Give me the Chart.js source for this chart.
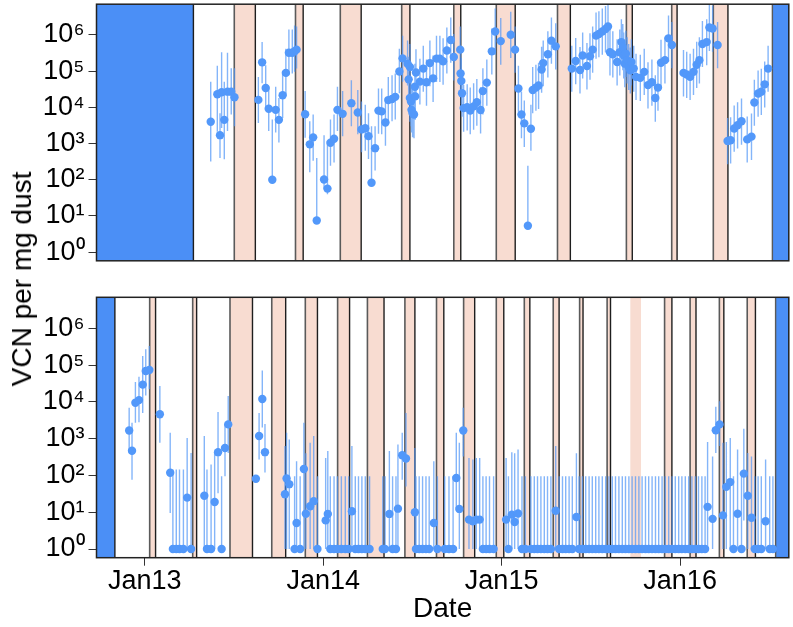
<!DOCTYPE html>
<html><head><meta charset="utf-8">
<script src="https://cdn.jsdelivr.net/npm/chart.js@4.4.1/dist/chart.umd.min.js"></script>
<style>
html,body{margin:0;padding:0;background:#fff;width:793px;height:627px;overflow:hidden;}
#top{position:absolute;left:0;top:0;width:793px;height:265px;}
#bot{position:absolute;left:0;top:290px;width:793px;height:337px;}
#ylab{position:absolute;left:22px;top:279px;transform:translate(-50%,-50%) rotate(-90deg);font:28px 'Liberation Sans',Arial,sans-serif;white-space:nowrap;color:#000;}
</style></head><body>
<div id="top"><canvas id="c1"></canvas></div>
<div id="bot"><canvas id="c2"></canvas></div>
<div id="ylab">VCN per mg dust</div>
<script>
// ---------- DATA ----------
const xTickValues = [2013, 2014, 2015, 2016];
const xTickLabels = ['Jan13', 'Jan14', 'Jan15', 'Jan16'];
const yTickValues = [1, 10, 100, 1000, 10000, 100000, 1000000];
const yTickLabels = ['10\u2070', '10\u00B9', '10\u00B2', '10\u00B3', '10\u2074', '10\u2075', '10\u2076'];

// top panel
const topDates = [
2013.370,2013.407,2013.422,2013.431,2013.446,2013.464,2013.485,2013.503,2013.637,2013.658,
2013.678,2013.695,2013.715,2013.734,2013.752,2013.773,2013.791,2013.808,2013.827,2013.840,
2013.851,2013.899,2013.925,2013.944,2013.964,2014.005,2014.024,2014.041,2014.061,2014.080,
2014.109,2014.158,2014.194,2014.215,2014.236,2014.254,2014.271,2014.291,2014.310,2014.328,
2014.349,2014.365,2014.386,2014.404,2014.427,2014.445,2014.473,2014.479,2014.486,2014.486,
2014.492,2014.495,2014.501,2014.509,2014.514,2014.516,2014.520,2014.542,2014.561,2014.579,
2014.598,2014.616,2014.635,2014.654,2014.672,2014.693,2014.715,2014.732,2014.768,2014.770,
2014.774,2014.778,2014.787,2014.807,2014.824,2014.843,2014.861,2014.882,2014.895,2014.917,
2014.945,2014.964,2014.995,2015.051,2015.075,2015.094,2015.111,2015.127,2015.147,2015.164,
2015.174,2015.192,2015.207,2015.224,2015.233,2015.259,2015.279,2015.303,2015.393,2015.415,
2015.439,2015.454,2015.478,2015.495,2015.510,2015.529,2015.545,2015.564,2015.582,2015.596,
2015.607,2015.623,2015.647,2015.662,2015.671,2015.679,2015.684,2015.690,2015.696,2015.703,
2015.712,2015.721,2015.727,2015.740,2015.753,2015.777,2015.799,2015.820,2015.842,2015.861,
2015.876,2015.893,2015.915,2015.935,2015.954,2016.019,2016.037,2016.056,2016.075,2016.093,
2016.108,2016.125,2016.149,2016.164,2016.182,2016.210,2016.266,2016.283,2016.303,2016.322,
2016.344,2016.376,2016.400,2016.416,2016.437,2016.455,2016.474,2016.493];
const topValues = [
4000,23000,1700,26000,4500,27000,27000,19000,16000,174000,
34000,9100,100,8500,4500,21500,89000,320000,320000,350000,
390000,6400,950,1480,7.5,102,57,1050,1360,8500,
6600,13000,7200,2450,2650,1600,83,745,8100,7700,
3800,15800,17000,19400,97000,224000,160000,59000,130000,18000,
14500,8500,6900,6300,37000,20000,91000,51000,117000,49000,
166000,63000,220000,220000,186000,370000,720000,245000,390000,86000,
53000,24500,9500,10000,8100,10600,13800,8400,28000,48000,
350000,1230000,670000,1000000,390000,33000,6300,3600,5.4,2550,
30000,35000,40000,110000,166000,290000,690000,480000,117000,190000,
107000,270000,138000,257000,390000,950000,1050000,1230000,1450000,1700000,
330000,290000,178000,330000,630000,460000,270000,160000,300000,200000,
130000,105000,178000,117000,69000,65000,95000,41000,49000,18000,
35000,170000,200000,800000,525000,89000,80000,69000,95000,150000,
200000,560000,630000,1600000,1500000,525000,1180,1230,2600,3200,
4100,1300,1550,13500,24000,27000,43000,117000];
const topLower = [
320,2100,400,2700,370,2200,6300,3000,3700,46000,
9500,2200,100,2000,1070,5100,22000,77000,86000,95000,
117000,1450,160,335,7.5,60,40,245,300,2200,
1600,3000,1800,570,630,375,83,180,1860,1800,
870,3700,4100,4600,24500,51000,40000,14000,30000,4000,
3000,2000,1500,1400,8500,4500,21000,12000,27000,11000,
38000,14000,50000,50000,42000,85000,170000,55000,90000,20000,
12000,5500,2100,2300,1800,2400,3100,1900,6300,11000,
80000,280000,150000,230000,90000,7500,1400,800,5.4,630,
6800,8000,9000,25000,38000,66000,160000,110000,27000,43000,
24000,62000,31000,58000,90000,220000,240000,280000,330000,390000,
75000,66000,40000,75000,145000,105000,62000,36000,68000,45000,
30000,24000,40000,27000,16000,15000,22000,9300,11000,4000,
8000,39000,45000,180000,120000,20000,18000,16000,22000,34000,
45000,130000,145000,360000,340000,120000,270,280,590,730,
930,300,350,3100,5500,6100,9800,27000];
const topUpper = [
51000,140000,6900,330000,51000,320000,120000,120000,69000,630000,
145000,37000,4600,37000,18000,86000,410000,1400000,1400000,1800000,
1700000,28000,4100,6300,400,1700,1180,4600,6300,37000,
28000,56000,30000,14500,11700,6900,3000,3000,33000,33000,
16000,69000,77000,86000,410000,950000,700000,250000,560000,80000,
60000,36000,30000,27000,160000,85000,400000,220000,500000,210000,
700000,270000,950000,950000,800000,1600000,3000000,1050000,1700000,370000,
230000,105000,41000,43000,35000,46000,60000,36000,120000,210000,
1500000,5300000,2900000,4300000,1700000,140000,27000,15500,245,11700,
130000,150000,170000,470000,700000,1250000,3000000,2100000,500000,820000,
460000,1150000,590000,1100000,1700000,4100000,4500000,5300000,6200000,7300000,
1400000,1250000,760000,1400000,2700000,2000000,1150000,690000,1300000,860000,
560000,450000,760000,500000,300000,280000,410000,176000,210000,77000,
150000,730000,860000,3400000,2250000,380000,340000,300000,410000,640000,
860000,2400000,2700000,6900000,6400000,2250000,5100,5300,11200,13800,
17600,5600,6700,58000,103000,116000,185000,500000];

// bottom panel
const bottomDates = [
2012.913,2012.929,2012.948,2012.968,2012.989,2013.006,2013.026,2013.085,2013.143,2013.158,
2013.177,2013.195,2013.217,2013.238,2013.260,2013.334,2013.349,2013.372,2013.392,2013.411,
2013.431,2013.450,2013.468,2013.623,2013.641,2013.659,2013.674,2013.786,2013.795,2013.810,
2013.840,2013.851,2013.871,2013.892,2013.903,2013.927,2013.947,2013.968,2014.014,2014.026,
2014.040,2014.061,2014.080,2014.102,2014.124,2014.143,2014.161,2014.180,2014.198,2014.217,
2014.236,2014.260,2014.334,2014.347,2014.371,2014.389,2014.408,2014.419,2014.443,2014.464,
2014.514,2014.520,2014.538,2014.557,2014.576,2014.594,2014.620,2014.640,2014.681,2014.705,
2014.728,2014.746,2014.763,2014.785,2014.817,2014.839,2014.858,2014.877,2014.895,2014.913,
2014.932,2014.955,2015.025,2015.038,2015.057,2015.073,2015.092,2015.114,2015.133,2015.164,
2015.183,2015.201,2015.220,2015.239,2015.257,2015.276,2015.303,2015.322,2015.341,2015.359,
2015.378,2015.396,2015.419,2015.434,2015.452,2015.471,2015.490,2015.508,2015.527,2015.545,
2015.564,2015.583,2015.601,2015.620,2015.638,2015.657,2015.676,2015.694,2015.713,2015.731,
2015.750,2015.769,2015.787,2015.806,2015.824,2015.843,2015.862,2015.880,2015.899,2015.917,
2015.936,2015.955,2015.973,2015.992,2016.010,2016.029,2016.048,2016.066,2016.085,2016.103,
2016.122,2016.140,2016.154,2016.182,2016.200,2016.221,2016.240,2016.259,2016.281,2016.299,
2016.322,2016.344,2016.357,2016.379,2016.400,2016.418,2016.437,2016.455,2016.479,2016.502,
2016.520];
const bottomValues = [
1670,470,9500,11200,29500,69000,74000,4600,118,1,
1,1,1,25,1,28,1,1,19,430,
1,560,2450,81,1180,12000,430,31,83,58,
1,5.1,1,150,9.1,14.5,20,1,6,9,
1,1,1,1,1,1,10.6,1,1,1,
1,1,1,1,9,1,1,12.5,355,290,
10,1,1,1,1,1,5.1,1,1,1,
1,85,12.3,1670,6.3,5.7,6.3,6.3,1,1,
1,1,6.3,1,8.6,5.4,9.2,1,1,1,
1,1,1,1,1,1,11,1,1,1,
1,1,7.4,1,1,1,1,1,1,1,
1,1,1,1,1,1,1,1,1,1,
1,1,1,1,1,1,1,1,1,1,
1,1,1,1,1,1,1,1,1,1,
1,1,14,6.6,1700,2450,8.2,49,66,1,
9.1,1,112,28,7.1,1,1,1,5.7,1,
1];
const bottomLower = [
400,77,2700,2800,5000,15000,22000,770,9.5,1,
1,1,1,1,1,1,1,1,1,33,
1,95,410,81,270,2000,120,1,1,1,
1,1,1,1,1,1,1,1,1,1,
1,1,1,1,1,1,1,1,1,1,
1,1,1,1,1,1,1,1,77,50,
1,1,1,1,1,1,1,1,1,1,
1,13,1,330,1,1,1,1,1,1,
1,1,1,1,1,1,1,1,1,1,
1,1,1,1,1,1,1,1,1,1,
1,1,1,1,1,1,1,1,1,1,
1,1,1,1,1,1,1,1,1,1,
1,1,1,1,1,1,1,1,1,1,
1,1,1,1,1,1,1,1,1,1,
1,1,1,1,410,630,1,1,1,1,
1,1,6,1,1,1,1,1,1,1,
1];
const bottomUpper = [
6900,2700,35000,48000,178000,270000,330000,27000,1450,145,
145,145,145,1050,410,1180,145,200,410,5300,
95,2450,14500,81,5000,72000,2500,630,1450,950,
95,245,95,2700,400,770,1180,95,300,460,
95,95,95,95,95,95,630,95,95,95,
95,95,95,95,460,95,95,700,1450,5000,
560,95,95,95,95,95,245,95,95,95,
95,1450,770,6900,300,270,300,300,95,95,
95,95,300,95,430,400,510,95,95,95,
95,95,95,95,95,95,630,95,95,95,
95,95,400,95,95,95,95,95,95,95,
95,95,95,95,95,95,95,95,95,95,
95,95,95,95,95,95,95,95,95,95,
95,95,95,95,95,95,95,95,95,95,
95,95,810,330,7400,10500,770,810,1050,95,
510,95,1860,410,330,95,95,95,270,95,
95];

// shaded periods (decimal years)
const topPinkPeriods = [[2013.502,2013.620],[2013.845,2013.888],[2014.096,2014.213],[2014.440,2014.486],
  [2014.732,2014.771],[2014.970,2015.076],[2015.313,2015.385],[2015.699,2015.732],[2015.953,2015.983],[2016.186,2016.268]];
const topBluePeriods = [[2012.70,2013.273],[2016.517,2016.65]];
const bottomPinkPeriods = [[2013.028,2013.061],[2013.269,2013.291],[2013.478,2013.604],[2013.712,2013.790],
  [2013.900,2013.968],[2014.081,2014.148],[2014.248,2014.341],[2014.458,2014.514],[2014.635,2014.676],
  [2014.787,2014.849],[2014.970,2015.012],[2015.127,2015.158],[2015.289,2015.322],[2015.437,2015.456],
  [2015.591,2015.610],[2015.913,2015.954],[2016.056,2016.089],[2016.220,2016.245],[2016.376,2016.422]];
const bottomPinkNoEdge = [[2015.721,2015.781]];
const bottomBluePeriods = [[2012.70,2012.833],[2016.535,2016.65]];

// ---------- RENDER ----------
const FONT = "'Liberation Sans', Arial, Helvetica, sans-serif";
const X_MIN = 2012.730, X_MAX = 2016.609;
const Y_MIN = 0.58, Y_MAX = 7.0e6;
const PINK = '#f8dcd1', BLUE = '#4b8ff6', EDGE_L = '#5a5a5a', EDGE_R = '#1e1e1e';
const POINT = '#5298fa', BAR = 'rgba(84,152,246,0.72)';

const bandsPlugin = {
  id: 'bands',
  beforeDatasetsDraw(chart, args, opts) {
    const {ctx, chartArea: a, scales: {x}} = chart;
    const px = v => x.getPixelForValue(v);
    const h = a.bottom - a.top;
    ctx.save();
    ctx.beginPath(); ctx.rect(a.left, a.top, a.right - a.left, h); ctx.clip();
    ctx.fillStyle = PINK;
    opts.pink.concat(opts.pinkNoEdge || []).forEach(([s, e]) => ctx.fillRect(px(s), a.top, px(e) - px(s), h));
    ctx.fillStyle = BLUE;
    opts.blue.forEach(([s, e]) => ctx.fillRect(px(s), a.top, px(e) - px(s), h));
    const vline = (xv, col, w) => { ctx.strokeStyle = col; ctx.lineWidth = w; ctx.beginPath(); ctx.moveTo(xv, a.top); ctx.lineTo(xv, a.bottom); ctx.stroke(); };
    opts.pink.forEach(([s, e]) => { vline(px(s), EDGE_L, 1.6); vline(px(e), EDGE_R, 1.4); });
    vline(px(opts.blue[0][1]), EDGE_R, 1.4);
    vline(px(opts.blue[1][0]), EDGE_L, 1.4);
    ctx.restore();
  }
};
const framePlugin = {
  id: 'frame',
  afterDraw(chart) {
    const {ctx, chartArea: a} = chart;
    ctx.save(); ctx.strokeStyle = '#222'; ctx.lineWidth = 1.5;
    ctx.strokeRect(a.left, a.top, a.right - a.left, a.bottom - a.top);
    ctx.restore();
  }
};

function errorSegments(dates, lo, hi) {
  const out = [];
  dates.forEach((d, i) => { out.push({x: d, y: lo[i]}, {x: d, y: hi[i]}, {x: d, y: null}); });
  return out;
}
function makeChart(canvasId, dates, vals, lo, hi, pink, pinkNoEdge, blue, isBottom) {
  return new Chart(document.getElementById(canvasId), {
    type: 'scatter',
    data: {
      datasets: [
        { type: 'line', data: errorSegments(dates, lo, hi), borderColor: BAR, borderWidth: 1.4,
          pointRadius: 0, spanGaps: false, fill: false, order: 2 },
        { data: dates.map((d, i) => ({x: d, y: vals[i]})), pointRadius: 4.2, pointHoverRadius: 4.2,
          pointBackgroundColor: POINT, pointBorderWidth: 0, backgroundColor: POINT, order: 1 }
      ]
    },
    options: {
      responsive: true, maintainAspectRatio: false, animation: false, devicePixelRatio: 1,
      layout: { padding: isBottom ? {top: 7.3, bottom: 0, left: 0, right: 0.5} : {top: 2, bottom: 3, left: 0, right: 0.5} },
      plugins: { legend: {display: false}, tooltip: {enabled: false},
                 bands: {pink: pink, pinkNoEdge: pinkNoEdge, blue: blue} },
      scales: {
        x: {
          type: 'linear', min: X_MIN, max: X_MAX, display: isBottom,
          afterBuildTicks: s => { s.ticks = xTickValues.map(v => ({value: v})); },
          afterFit: s => { s.paddingLeft = 0; s.paddingRight = 0; if (isBottom) s.height = 69.3; },
          ticks: { callback: (v, i) => xTickLabels[i], font: {family: FONT, size: 27}, color: '#000', padding: 0, maxRotation: 0, autoSkip: false },
          grid: { drawOnChartArea: false, drawTicks: true, tickLength: 8, color: '#333', lineWidth: 1 },
          border: { display: false },
          title: { display: true, text: 'Date', font: {family: FONT, size: 28}, color: '#000', padding: {top: 0, bottom: 1} }
        },
        y: {
          type: 'logarithmic', min: Y_MIN, max: Y_MAX,
          afterBuildTicks: s => { s.ticks = yTickValues.map(v => ({value: v})); },
          afterFit: s => { s.width = 96.5; s.paddingTop = 0; s.paddingBottom = 0; },
          ticks: { callback: (v, i) => yTickLabels[i], font: {family: FONT, size: 27}, color: '#000', padding: 4, autoSkip: false },
          grid: { drawOnChartArea: false, drawTicks: true, tickLength: 8, color: '#333', lineWidth: 1 },
          border: { display: false }
        }
      }
    },
    plugins: [bandsPlugin, framePlugin]
  });
}
makeChart('c1', topDates, topValues, topLower, topUpper, topPinkPeriods, [], topBluePeriods, false);
makeChart('c2', bottomDates, bottomValues, bottomLower, bottomUpper, bottomPinkPeriods, bottomPinkNoEdge, bottomBluePeriods, true);
</script></body></html>
